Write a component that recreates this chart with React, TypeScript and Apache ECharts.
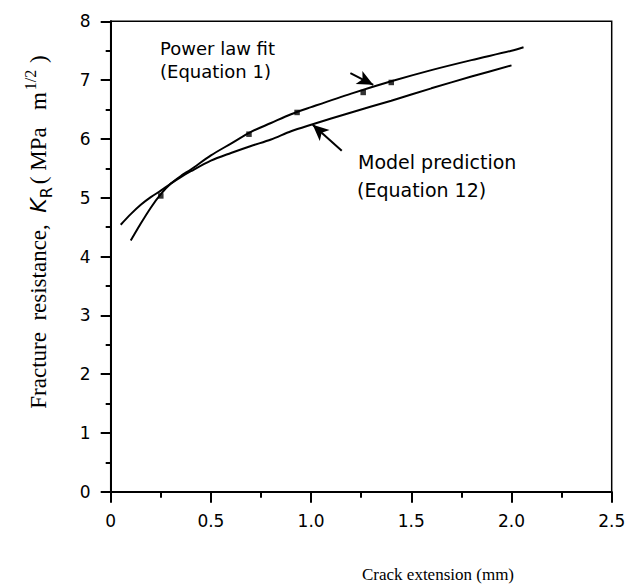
import React, { useEffect, useRef } from "react";
import * as echarts from "echarts";

// Power law fit (Equation 1) — upper curve through the data
const powerLawX = [0.1, 0.15, 0.2, 0.25, 0.3, 0.35, 0.4, 0.5, 0.6, 0.7, 0.8, 0.9, 1.0, 1.2, 1.4, 1.6, 1.8, 2.0, 2.06];
const powerLawY = [4.27, 4.56, 4.83, 5.06, 5.24, 5.37, 5.48, 5.72, 5.92, 6.12, 6.27, 6.42, 6.54, 6.77, 6.98, 7.17, 7.34, 7.5, 7.56];

// Model prediction (Equation 12) — lower curve
const modelX = [0.05, 0.1, 0.15, 0.2, 0.25, 0.3, 0.35, 0.4, 0.5, 0.6, 0.7, 0.8, 0.9, 1.0, 1.2, 1.4, 1.6, 1.8, 2.0];
const modelY = [4.54, 4.72, 4.88, 5.01, 5.12, 5.24, 5.35, 5.45, 5.63, 5.76, 5.88, 5.99, 6.13, 6.24, 6.45, 6.65, 6.86, 7.06, 7.25];

// Measured points (small squares)
const measuredX = [0.25, 0.69, 0.93, 1.26, 1.4];
const measuredY = [5.03, 6.08, 6.45, 6.79, 6.96];

// Arrows (data coordinates): [tailX, tailY, headX, headY]
const powerArrow = [1.196, 7.12, 1.31, 6.92];
const modelArrow = [1.153, 5.8, 1.008, 6.24];

const xTickLabels = ["0", "0.5", "1.0", "1.5", "2.0", "2.5"];
const yTickLabels = ["0", "1", "2", "3", "4", "5", "6", "7", "8"];

const SANS = "DejaVu Sans";
const SERIF = "Liberation Serif";

export default function App() {
  const ref = useRef<HTMLDivElement>(null);

  useEffect(() => {
    if (!ref.current) return;
    const chart = echarts.init(ref.current, undefined, { renderer: "svg" });

    const pairs = (xs: number[], ys: number[]) => xs.map((x, i) => [x, ys[i]]);

    const arrowLine = (a: number[]) => ({
      silent: true,
      symbol: ["none", "arrow"],
      symbolSize: [11, 16],
      lineStyle: { color: "#000", width: 2, type: "solid" },
      label: { show: false },
      data: [[{ coord: [a[0], a[1]] }, { coord: [a[2], a[3]] }]],
    });

    chart.setOption({
      animation: false,
      backgroundColor: "#fff",
      grid: {
        left: 110.7,
        right: 24.3,
        top: 21.3,
        bottom: 95.3,
        show: true,
        borderColor: "#000",
        borderWidth: 1.5,
      },
      xAxis: {
        type: "value",
        min: 0,
        max: 2.5,
        interval: 0.5,
        axisLine: { show: true, onZero: false, lineStyle: { color: "#000", width: 2 } },
        axisTick: { show: true, inside: false, length: 11, lineStyle: { color: "#000", width: 2 } },
        minorTick: { show: true, splitNumber: 2, length: 6, lineStyle: { color: "#000", width: 2 } },
        splitLine: { show: false },
        axisLabel: {
          margin: 21,
          color: "#000",
          fontFamily: SANS,
          fontSize: 17,
          formatter: (v: number) => xTickLabels[Math.round(v / 0.5)] ?? "",
        },
      },
      yAxis: {
        type: "value",
        min: 0,
        max: 8,
        interval: 1,
        axisLine: { show: true, onZero: false, lineStyle: { color: "#000", width: 2 } },
        axisTick: { show: true, inside: false, length: 10, lineStyle: { color: "#000", width: 2 } },
        minorTick: { show: true, splitNumber: 2, length: 5, lineStyle: { color: "#000", width: 2 } },
        splitLine: { show: false },
        axisLabel: {
          margin: 20,
          color: "#000",
          fontFamily: SANS,
          fontSize: 17,
          formatter: (v: number) => yTickLabels[Math.round(v)] ?? "",
        },
      },
      series: [
        {
          name: "Power law fit",
          type: "line",
          data: pairs(powerLawX, powerLawY),
          smooth: 0.3,
          showSymbol: false,
          lineStyle: { color: "#000", width: 2 },
          markLine: arrowLine(powerArrow),
        },
        {
          name: "Model prediction",
          type: "line",
          data: pairs(modelX, modelY),
          smooth: 0.3,
          showSymbol: false,
          lineStyle: { color: "#000", width: 2 },
          markLine: arrowLine(modelArrow),
        },
        {
          name: "Measured",
          type: "scatter",
          data: pairs(measuredX, measuredY),
          symbol: "rect",
          symbolSize: 5.5,
          itemStyle: { color: "#000" },
        },
      ],
      graphic: [
        {
          type: "text",
          left: 160,
          top: 39,
          style: { text: "Power law fit", fontFamily: SANS, fontSize: 18, fill: "#000" },
        },
        {
          type: "text",
          left: 160,
          top: 62,
          style: { text: "(Equation 1)", fontFamily: SANS, fontSize: 18, fill: "#000" },
        },
        {
          type: "text",
          left: 358,
          top: 152,
          style: { text: "Model prediction", fontFamily: SANS, fontSize: 19, fill: "#000" },
        },
        {
          type: "text",
          left: 357,
          top: 180,
          style: { text: "(Equation 12)", fontFamily: SANS, fontSize: 19, fill: "#000" },
        },
        {
          type: "text",
          x: 438,
          y: 574,
          style: {
            text: "Crack extension (mm)",
            fontFamily: SERIF,
            fontSize: 17,
            fill: "#000",
            align: "center",
            verticalAlign: "middle",
          },
        },
        {
          type: "text",
          x: 38,
          y: 232,
          rotation: Math.PI / 2,
          style: {
            text: "{a|Fracture  resistance,  }{k|K}{sub|R}{a|( MPa   m}{sup|1/2}{a| )}",
            align: "center",
            verticalAlign: "middle",
            fill: "#000",
            rich: {
              a: { fontFamily: SERIF, fontSize: 23, lineHeight: 32, fill: "#000", verticalAlign: "middle" },
              k: { fontFamily: SANS, fontStyle: "italic", fontSize: 22, lineHeight: 32, fill: "#000", verticalAlign: "middle" },
              sub: { fontFamily: SANS, fontSize: 16, lineHeight: 32, fill: "#000", verticalAlign: "bottom", padding: [0, 3, 0, 0] },
              sup: { fontFamily: SERIF, fontSize: 16, lineHeight: 32, fill: "#000", verticalAlign: "top", padding: [0, 1, 0, 2] },
            },
          },
        },
      ],
    });

    return () => chart.dispose();
  }, []);

  return (
    <div
      ref={ref}
      style={{ position: "fixed", left: 0, top: 0, width: 636, height: 587, background: "#fff" }}
    />
  );
}
